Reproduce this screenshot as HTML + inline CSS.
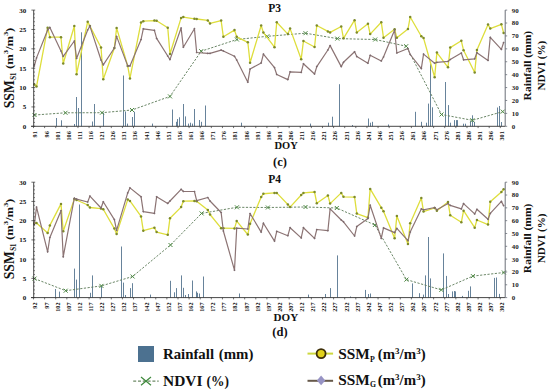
<!DOCTYPE html><html><head><meta charset="utf-8"><style>
html,body{margin:0;padding:0;background:#fff;}
svg{display:block;}
text{font-family:"Liberation Serif",serif;fill:#111;}
.tl{font-size:7px;font-weight:bold;text-anchor:end;}
.tr{font-size:6.9px;font-weight:bold;fill:#222;}
.tx{font-size:6.2px;font-weight:bold;text-anchor:end;}
.pt{font-size:12.6px;font-weight:bold;}
.doy{font-size:10.6px;font-weight:bold;}
.sub{font-size:12.5px;font-weight:bold;text-anchor:middle;}
.ax{font-weight:bold;}
.lg{font-size:14.2px;font-weight:bold;}
</style></head><body>
<svg width="550" height="392" viewBox="0 0 550 392">
<rect width="550" height="392" fill="#fff"/>
<rect x="56" y="118.00" width="1" height="8.30" fill="#67839b"/>
<rect x="61" y="120.30" width="1" height="6.00" fill="#67839b"/>
<rect x="74" y="124.00" width="1" height="2.30" fill="#67839b"/>
<rect x="76" y="97.00" width="1" height="29.30" fill="#67839b"/>
<rect x="78" y="108.00" width="1" height="18.30" fill="#67839b"/>
<rect x="81" y="32.30" width="1" height="94.00" fill="#67839b"/>
<rect x="92" y="121.50" width="1" height="4.80" fill="#67839b"/>
<rect x="94" y="104.00" width="1" height="22.30" fill="#67839b"/>
<rect x="103" y="112.80" width="1" height="13.50" fill="#67839b"/>
<rect x="123" y="75.50" width="1" height="50.80" fill="#67839b"/>
<rect x="125" y="111.50" width="1" height="14.80" fill="#67839b"/>
<rect x="127" y="123.60" width="1" height="2.70" fill="#67839b"/>
<rect x="132" y="117.00" width="1" height="9.30" fill="#67839b"/>
<rect x="134" y="111.80" width="1" height="14.50" fill="#67839b"/>
<rect x="152" y="123.60" width="1" height="2.70" fill="#67839b"/>
<rect x="172" y="109.50" width="1" height="16.80" fill="#67839b"/>
<rect x="176" y="121.80" width="1" height="4.50" fill="#67839b"/>
<rect x="177" y="119.00" width="1" height="7.30" fill="#67839b"/>
<rect x="179" y="117.30" width="1" height="9.00" fill="#67839b"/>
<rect x="183" y="104.00" width="1" height="22.30" fill="#67839b"/>
<rect x="185" y="116.40" width="1" height="9.90" fill="#67839b"/>
<rect x="188" y="123.60" width="1" height="2.70" fill="#67839b"/>
<rect x="190" y="122.70" width="1" height="3.60" fill="#67839b"/>
<rect x="192" y="123.60" width="1" height="2.70" fill="#67839b"/>
<rect x="194" y="109.00" width="1" height="17.30" fill="#67839b"/>
<rect x="199" y="120.00" width="1" height="6.30" fill="#67839b"/>
<rect x="201" y="121.80" width="1" height="4.50" fill="#67839b"/>
<rect x="205" y="105.50" width="1" height="20.80" fill="#67839b"/>
<rect x="241" y="122.70" width="1" height="3.60" fill="#67839b"/>
<rect x="310" y="123.60" width="1" height="2.70" fill="#67839b"/>
<rect x="328" y="122.70" width="1" height="3.60" fill="#67839b"/>
<rect x="332" y="116.70" width="1" height="9.60" fill="#67839b"/>
<rect x="339" y="84.20" width="1" height="42.10" fill="#67839b"/>
<rect x="352" y="125.00" width="1" height="1.30" fill="#67839b"/>
<rect x="368" y="118.50" width="1" height="7.80" fill="#67839b"/>
<rect x="370" y="122.70" width="1" height="3.60" fill="#67839b"/>
<rect x="372" y="121.80" width="1" height="4.50" fill="#67839b"/>
<rect x="388" y="124.50" width="1" height="1.80" fill="#67839b"/>
<rect x="415" y="111.80" width="1" height="14.50" fill="#67839b"/>
<rect x="421" y="121.80" width="1" height="4.50" fill="#67839b"/>
<rect x="426" y="122.70" width="1" height="3.60" fill="#67839b"/>
<rect x="428" y="103.60" width="1" height="22.70" fill="#67839b"/>
<rect x="430" y="63.60" width="1" height="62.70" fill="#67839b"/>
<rect x="432" y="107.30" width="1" height="19.00" fill="#67839b"/>
<rect x="445" y="82.00" width="1" height="44.30" fill="#67839b"/>
<rect x="448" y="105.10" width="1" height="21.20" fill="#67839b"/>
<rect x="450" y="122.70" width="1" height="3.60" fill="#67839b"/>
<rect x="454" y="120.10" width="1" height="6.20" fill="#67839b"/>
<rect x="456" y="120.10" width="1" height="6.20" fill="#67839b"/>
<rect x="457" y="120.10" width="1" height="6.20" fill="#67839b"/>
<rect x="463" y="123.70" width="1" height="2.60" fill="#67839b"/>
<rect x="465" y="123.70" width="1" height="2.60" fill="#67839b"/>
<rect x="470" y="121.10" width="1" height="5.20" fill="#67839b"/>
<rect x="472" y="115.30" width="1" height="11.00" fill="#67839b"/>
<rect x="474" y="121.90" width="1" height="4.40" fill="#67839b"/>
<rect x="497" y="107.50" width="1" height="18.80" fill="#67839b"/>
<rect x="499" y="106.00" width="1" height="20.30" fill="#67839b"/>
<rect x="501" y="122.00" width="1" height="4.30" fill="#67839b"/>
<polyline points="34.50,115.00 65.50,112.80 102.00,112.70 132.00,110.00 170.00,96.40 201.20,51.20 236.90,39.50 267.30,36.30 305.50,33.20 337.30,38.60 375.20,39.50 406.20,46.20 441.50,114.50 472.40,120.30 502.70,111.60" fill="none" stroke="#62805e" stroke-width="0.95" stroke-linejoin="round" stroke-dasharray="2.2,1.5"/>
<path d="M32.50 113.00l4 4m0 -4l-4 4" stroke="#4f8a45" stroke-width="1" fill="none"/>
<path d="M63.50 110.80l4 4m0 -4l-4 4" stroke="#4f8a45" stroke-width="1" fill="none"/>
<path d="M100.00 110.70l4 4m0 -4l-4 4" stroke="#4f8a45" stroke-width="1" fill="none"/>
<path d="M130.00 108.00l4 4m0 -4l-4 4" stroke="#4f8a45" stroke-width="1" fill="none"/>
<path d="M168.00 94.40l4 4m0 -4l-4 4" stroke="#4f8a45" stroke-width="1" fill="none"/>
<path d="M199.20 49.20l4 4m0 -4l-4 4" stroke="#4f8a45" stroke-width="1" fill="none"/>
<path d="M234.90 37.50l4 4m0 -4l-4 4" stroke="#4f8a45" stroke-width="1" fill="none"/>
<path d="M265.30 34.30l4 4m0 -4l-4 4" stroke="#4f8a45" stroke-width="1" fill="none"/>
<path d="M303.50 31.20l4 4m0 -4l-4 4" stroke="#4f8a45" stroke-width="1" fill="none"/>
<path d="M335.30 36.60l4 4m0 -4l-4 4" stroke="#4f8a45" stroke-width="1" fill="none"/>
<path d="M373.20 37.50l4 4m0 -4l-4 4" stroke="#4f8a45" stroke-width="1" fill="none"/>
<path d="M404.20 44.20l4 4m0 -4l-4 4" stroke="#4f8a45" stroke-width="1" fill="none"/>
<path d="M439.50 112.50l4 4m0 -4l-4 4" stroke="#4f8a45" stroke-width="1" fill="none"/>
<path d="M470.40 118.30l4 4m0 -4l-4 4" stroke="#4f8a45" stroke-width="1" fill="none"/>
<path d="M500.70 109.60l4 4m0 -4l-4 4" stroke="#4f8a45" stroke-width="1" fill="none"/>
<polyline points="34.30,84.40 36.53,86.40 47.64,27.70 49.87,37.20 60.99,37.20 63.22,63.50 74.34,26.00 76.57,74.20 87.68,21.70 89.91,26.10 101.03,47.50 103.26,79.20 114.37,48.00 116.60,27.90 127.72,65.90 129.94,78.40 141.06,22.40 143.29,21.20 154.41,20.60 156.63,20.80 167.75,27.80 169.98,54.00 181.10,17.90 183.33,17.10 194.44,18.80 196.67,19.00 207.79,20.40 210.02,23.40 221.13,20.60 223.36,36.80 234.48,30.10 236.71,36.80 247.82,42.30 250.05,62.80 261.17,25.50 263.40,32.60 274.51,47.20 276.74,22.30 287.86,34.10 290.09,28.60 301.20,59.20 303.43,41.00 314.55,47.00 316.78,25.50 327.89,31.40 330.12,32.40 341.24,26.50 343.47,38.30 354.58,20.20 356.81,32.60 367.93,23.80 370.16,34.10 381.27,22.20 383.50,37.70 394.62,29.30 396.85,37.70 407.96,29.10 410.19,17.00 421.31,36.30 423.54,38.10 434.65,77.30 436.88,52.60 448.00,67.30 450.23,47.60 461.34,40.80 463.57,50.30 474.69,72.50 476.92,50.10 488.03,24.40 490.26,28.60 501.38,24.30 503.61,32.90" fill="none" stroke="#dede3c" stroke-width="1.3" stroke-linejoin="round" />
<circle cx="34.30" cy="84.40" r="1.25" fill="#7d8a2c"/>
<circle cx="36.53" cy="86.40" r="1.25" fill="#7d8a2c"/>
<circle cx="47.64" cy="27.70" r="1.25" fill="#7d8a2c"/>
<circle cx="49.87" cy="37.20" r="1.25" fill="#7d8a2c"/>
<circle cx="60.99" cy="37.20" r="1.25" fill="#7d8a2c"/>
<circle cx="63.22" cy="63.50" r="1.25" fill="#7d8a2c"/>
<circle cx="74.34" cy="26.00" r="1.25" fill="#7d8a2c"/>
<circle cx="76.57" cy="74.20" r="1.25" fill="#7d8a2c"/>
<circle cx="87.68" cy="21.70" r="1.25" fill="#7d8a2c"/>
<circle cx="89.91" cy="26.10" r="1.25" fill="#7d8a2c"/>
<circle cx="101.03" cy="47.50" r="1.25" fill="#7d8a2c"/>
<circle cx="103.26" cy="79.20" r="1.25" fill="#7d8a2c"/>
<circle cx="114.37" cy="48.00" r="1.25" fill="#7d8a2c"/>
<circle cx="116.60" cy="27.90" r="1.25" fill="#7d8a2c"/>
<circle cx="127.72" cy="65.90" r="1.25" fill="#7d8a2c"/>
<circle cx="129.94" cy="78.40" r="1.25" fill="#7d8a2c"/>
<circle cx="141.06" cy="22.40" r="1.25" fill="#7d8a2c"/>
<circle cx="143.29" cy="21.20" r="1.25" fill="#7d8a2c"/>
<circle cx="154.41" cy="20.60" r="1.25" fill="#7d8a2c"/>
<circle cx="156.63" cy="20.80" r="1.25" fill="#7d8a2c"/>
<circle cx="167.75" cy="27.80" r="1.25" fill="#7d8a2c"/>
<circle cx="169.98" cy="54.00" r="1.25" fill="#7d8a2c"/>
<circle cx="181.10" cy="17.90" r="1.25" fill="#7d8a2c"/>
<circle cx="183.33" cy="17.10" r="1.25" fill="#7d8a2c"/>
<circle cx="194.44" cy="18.80" r="1.25" fill="#7d8a2c"/>
<circle cx="196.67" cy="19.00" r="1.25" fill="#7d8a2c"/>
<circle cx="207.79" cy="20.40" r="1.25" fill="#7d8a2c"/>
<circle cx="210.02" cy="23.40" r="1.25" fill="#7d8a2c"/>
<circle cx="221.13" cy="20.60" r="1.25" fill="#7d8a2c"/>
<circle cx="223.36" cy="36.80" r="1.25" fill="#7d8a2c"/>
<circle cx="234.48" cy="30.10" r="1.25" fill="#7d8a2c"/>
<circle cx="236.71" cy="36.80" r="1.25" fill="#7d8a2c"/>
<circle cx="247.82" cy="42.30" r="1.25" fill="#7d8a2c"/>
<circle cx="250.05" cy="62.80" r="1.25" fill="#7d8a2c"/>
<circle cx="261.17" cy="25.50" r="1.25" fill="#7d8a2c"/>
<circle cx="263.40" cy="32.60" r="1.25" fill="#7d8a2c"/>
<circle cx="274.51" cy="47.20" r="1.25" fill="#7d8a2c"/>
<circle cx="276.74" cy="22.30" r="1.25" fill="#7d8a2c"/>
<circle cx="287.86" cy="34.10" r="1.25" fill="#7d8a2c"/>
<circle cx="290.09" cy="28.60" r="1.25" fill="#7d8a2c"/>
<circle cx="301.20" cy="59.20" r="1.25" fill="#7d8a2c"/>
<circle cx="303.43" cy="41.00" r="1.25" fill="#7d8a2c"/>
<circle cx="314.55" cy="47.00" r="1.25" fill="#7d8a2c"/>
<circle cx="316.78" cy="25.50" r="1.25" fill="#7d8a2c"/>
<circle cx="327.89" cy="31.40" r="1.25" fill="#7d8a2c"/>
<circle cx="330.12" cy="32.40" r="1.25" fill="#7d8a2c"/>
<circle cx="341.24" cy="26.50" r="1.25" fill="#7d8a2c"/>
<circle cx="343.47" cy="38.30" r="1.25" fill="#7d8a2c"/>
<circle cx="354.58" cy="20.20" r="1.25" fill="#7d8a2c"/>
<circle cx="356.81" cy="32.60" r="1.25" fill="#7d8a2c"/>
<circle cx="367.93" cy="23.80" r="1.25" fill="#7d8a2c"/>
<circle cx="370.16" cy="34.10" r="1.25" fill="#7d8a2c"/>
<circle cx="381.27" cy="22.20" r="1.25" fill="#7d8a2c"/>
<circle cx="383.50" cy="37.70" r="1.25" fill="#7d8a2c"/>
<circle cx="394.62" cy="29.30" r="1.25" fill="#7d8a2c"/>
<circle cx="396.85" cy="37.70" r="1.25" fill="#7d8a2c"/>
<circle cx="407.96" cy="29.10" r="1.25" fill="#7d8a2c"/>
<circle cx="410.19" cy="17.00" r="1.25" fill="#7d8a2c"/>
<circle cx="421.31" cy="36.30" r="1.25" fill="#7d8a2c"/>
<circle cx="423.54" cy="38.10" r="1.25" fill="#7d8a2c"/>
<circle cx="434.65" cy="77.30" r="1.25" fill="#7d8a2c"/>
<circle cx="436.88" cy="52.60" r="1.25" fill="#7d8a2c"/>
<circle cx="448.00" cy="67.30" r="1.25" fill="#7d8a2c"/>
<circle cx="450.23" cy="47.60" r="1.25" fill="#7d8a2c"/>
<circle cx="461.34" cy="40.80" r="1.25" fill="#7d8a2c"/>
<circle cx="463.57" cy="50.30" r="1.25" fill="#7d8a2c"/>
<circle cx="474.69" cy="72.50" r="1.25" fill="#7d8a2c"/>
<circle cx="476.92" cy="50.10" r="1.25" fill="#7d8a2c"/>
<circle cx="488.03" cy="24.40" r="1.25" fill="#7d8a2c"/>
<circle cx="490.26" cy="28.60" r="1.25" fill="#7d8a2c"/>
<circle cx="501.38" cy="24.30" r="1.25" fill="#7d8a2c"/>
<circle cx="503.61" cy="32.90" r="1.25" fill="#7d8a2c"/>
<polyline points="34.30,66.00 36.53,57.90 47.64,30.00 49.87,27.40 60.99,51.00 63.22,56.30 74.34,41.00 76.57,58.50 87.68,30.00 89.91,26.10 101.03,60.00 103.26,64.80 114.37,48.00 116.60,36.40 127.72,65.90 129.94,65.90 141.06,39.50 143.29,28.80 154.41,30.30 156.63,38.40 167.75,56.00 169.98,59.60 181.10,28.00 183.33,47.20 194.44,28.70 196.67,52.50 207.79,53.40 210.02,53.40 221.13,50.10 223.36,51.00 234.48,56.30 236.71,60.00 247.82,82.20 250.05,69.10 261.17,62.90 263.40,54.10 274.51,67.70 276.74,74.50 287.86,79.60 290.09,71.80 301.20,72.40 303.43,63.80 314.55,74.00 316.78,66.60 327.89,50.00 330.12,45.60 341.24,66.60 343.47,62.30 354.58,51.80 356.81,56.60 367.93,63.20 370.16,55.30 381.27,61.00 383.50,57.00 394.62,30.00 396.85,53.00 407.96,48.50 410.19,54.50 421.31,68.60 423.54,54.10 434.65,63.20 436.88,62.30 448.00,61.40 450.23,59.50 461.34,53.10 463.57,59.80 474.69,58.80 476.92,52.70 488.03,60.40 490.26,37.30 501.38,49.40 503.61,42.50" fill="none" stroke="#8c7474" stroke-width="1.2" stroke-linejoin="round" />
<path d="M34.30 64.90l1.1 1.1l-1.1 1.1l-1.1 -1.1z" fill="#7c6a6e"/>
<path d="M36.53 56.80l1.1 1.1l-1.1 1.1l-1.1 -1.1z" fill="#7c6a6e"/>
<path d="M47.64 28.90l1.1 1.1l-1.1 1.1l-1.1 -1.1z" fill="#7c6a6e"/>
<path d="M49.87 26.30l1.1 1.1l-1.1 1.1l-1.1 -1.1z" fill="#7c6a6e"/>
<path d="M60.99 49.90l1.1 1.1l-1.1 1.1l-1.1 -1.1z" fill="#7c6a6e"/>
<path d="M63.22 55.20l1.1 1.1l-1.1 1.1l-1.1 -1.1z" fill="#7c6a6e"/>
<path d="M74.34 39.90l1.1 1.1l-1.1 1.1l-1.1 -1.1z" fill="#7c6a6e"/>
<path d="M76.57 57.40l1.1 1.1l-1.1 1.1l-1.1 -1.1z" fill="#7c6a6e"/>
<path d="M87.68 28.90l1.1 1.1l-1.1 1.1l-1.1 -1.1z" fill="#7c6a6e"/>
<path d="M89.91 25.00l1.1 1.1l-1.1 1.1l-1.1 -1.1z" fill="#7c6a6e"/>
<path d="M101.03 58.90l1.1 1.1l-1.1 1.1l-1.1 -1.1z" fill="#7c6a6e"/>
<path d="M103.26 63.70l1.1 1.1l-1.1 1.1l-1.1 -1.1z" fill="#7c6a6e"/>
<path d="M114.37 46.90l1.1 1.1l-1.1 1.1l-1.1 -1.1z" fill="#7c6a6e"/>
<path d="M116.60 35.30l1.1 1.1l-1.1 1.1l-1.1 -1.1z" fill="#7c6a6e"/>
<path d="M127.72 64.80l1.1 1.1l-1.1 1.1l-1.1 -1.1z" fill="#7c6a6e"/>
<path d="M129.94 64.80l1.1 1.1l-1.1 1.1l-1.1 -1.1z" fill="#7c6a6e"/>
<path d="M141.06 38.40l1.1 1.1l-1.1 1.1l-1.1 -1.1z" fill="#7c6a6e"/>
<path d="M143.29 27.70l1.1 1.1l-1.1 1.1l-1.1 -1.1z" fill="#7c6a6e"/>
<path d="M154.41 29.20l1.1 1.1l-1.1 1.1l-1.1 -1.1z" fill="#7c6a6e"/>
<path d="M156.63 37.30l1.1 1.1l-1.1 1.1l-1.1 -1.1z" fill="#7c6a6e"/>
<path d="M167.75 54.90l1.1 1.1l-1.1 1.1l-1.1 -1.1z" fill="#7c6a6e"/>
<path d="M169.98 58.50l1.1 1.1l-1.1 1.1l-1.1 -1.1z" fill="#7c6a6e"/>
<path d="M181.10 26.90l1.1 1.1l-1.1 1.1l-1.1 -1.1z" fill="#7c6a6e"/>
<path d="M183.33 46.10l1.1 1.1l-1.1 1.1l-1.1 -1.1z" fill="#7c6a6e"/>
<path d="M194.44 27.60l1.1 1.1l-1.1 1.1l-1.1 -1.1z" fill="#7c6a6e"/>
<path d="M196.67 51.40l1.1 1.1l-1.1 1.1l-1.1 -1.1z" fill="#7c6a6e"/>
<path d="M207.79 52.30l1.1 1.1l-1.1 1.1l-1.1 -1.1z" fill="#7c6a6e"/>
<path d="M210.02 52.30l1.1 1.1l-1.1 1.1l-1.1 -1.1z" fill="#7c6a6e"/>
<path d="M221.13 49.00l1.1 1.1l-1.1 1.1l-1.1 -1.1z" fill="#7c6a6e"/>
<path d="M223.36 49.90l1.1 1.1l-1.1 1.1l-1.1 -1.1z" fill="#7c6a6e"/>
<path d="M234.48 55.20l1.1 1.1l-1.1 1.1l-1.1 -1.1z" fill="#7c6a6e"/>
<path d="M236.71 58.90l1.1 1.1l-1.1 1.1l-1.1 -1.1z" fill="#7c6a6e"/>
<path d="M247.82 81.10l1.1 1.1l-1.1 1.1l-1.1 -1.1z" fill="#7c6a6e"/>
<path d="M250.05 68.00l1.1 1.1l-1.1 1.1l-1.1 -1.1z" fill="#7c6a6e"/>
<path d="M261.17 61.80l1.1 1.1l-1.1 1.1l-1.1 -1.1z" fill="#7c6a6e"/>
<path d="M263.40 53.00l1.1 1.1l-1.1 1.1l-1.1 -1.1z" fill="#7c6a6e"/>
<path d="M274.51 66.60l1.1 1.1l-1.1 1.1l-1.1 -1.1z" fill="#7c6a6e"/>
<path d="M276.74 73.40l1.1 1.1l-1.1 1.1l-1.1 -1.1z" fill="#7c6a6e"/>
<path d="M287.86 78.50l1.1 1.1l-1.1 1.1l-1.1 -1.1z" fill="#7c6a6e"/>
<path d="M290.09 70.70l1.1 1.1l-1.1 1.1l-1.1 -1.1z" fill="#7c6a6e"/>
<path d="M301.20 71.30l1.1 1.1l-1.1 1.1l-1.1 -1.1z" fill="#7c6a6e"/>
<path d="M303.43 62.70l1.1 1.1l-1.1 1.1l-1.1 -1.1z" fill="#7c6a6e"/>
<path d="M314.55 72.90l1.1 1.1l-1.1 1.1l-1.1 -1.1z" fill="#7c6a6e"/>
<path d="M316.78 65.50l1.1 1.1l-1.1 1.1l-1.1 -1.1z" fill="#7c6a6e"/>
<path d="M327.89 48.90l1.1 1.1l-1.1 1.1l-1.1 -1.1z" fill="#7c6a6e"/>
<path d="M330.12 44.50l1.1 1.1l-1.1 1.1l-1.1 -1.1z" fill="#7c6a6e"/>
<path d="M341.24 65.50l1.1 1.1l-1.1 1.1l-1.1 -1.1z" fill="#7c6a6e"/>
<path d="M343.47 61.20l1.1 1.1l-1.1 1.1l-1.1 -1.1z" fill="#7c6a6e"/>
<path d="M354.58 50.70l1.1 1.1l-1.1 1.1l-1.1 -1.1z" fill="#7c6a6e"/>
<path d="M356.81 55.50l1.1 1.1l-1.1 1.1l-1.1 -1.1z" fill="#7c6a6e"/>
<path d="M367.93 62.10l1.1 1.1l-1.1 1.1l-1.1 -1.1z" fill="#7c6a6e"/>
<path d="M370.16 54.20l1.1 1.1l-1.1 1.1l-1.1 -1.1z" fill="#7c6a6e"/>
<path d="M381.27 59.90l1.1 1.1l-1.1 1.1l-1.1 -1.1z" fill="#7c6a6e"/>
<path d="M383.50 55.90l1.1 1.1l-1.1 1.1l-1.1 -1.1z" fill="#7c6a6e"/>
<path d="M394.62 28.90l1.1 1.1l-1.1 1.1l-1.1 -1.1z" fill="#7c6a6e"/>
<path d="M396.85 51.90l1.1 1.1l-1.1 1.1l-1.1 -1.1z" fill="#7c6a6e"/>
<path d="M407.96 47.40l1.1 1.1l-1.1 1.1l-1.1 -1.1z" fill="#7c6a6e"/>
<path d="M410.19 53.40l1.1 1.1l-1.1 1.1l-1.1 -1.1z" fill="#7c6a6e"/>
<path d="M421.31 67.50l1.1 1.1l-1.1 1.1l-1.1 -1.1z" fill="#7c6a6e"/>
<path d="M423.54 53.00l1.1 1.1l-1.1 1.1l-1.1 -1.1z" fill="#7c6a6e"/>
<path d="M434.65 62.10l1.1 1.1l-1.1 1.1l-1.1 -1.1z" fill="#7c6a6e"/>
<path d="M436.88 61.20l1.1 1.1l-1.1 1.1l-1.1 -1.1z" fill="#7c6a6e"/>
<path d="M448.00 60.30l1.1 1.1l-1.1 1.1l-1.1 -1.1z" fill="#7c6a6e"/>
<path d="M450.23 58.40l1.1 1.1l-1.1 1.1l-1.1 -1.1z" fill="#7c6a6e"/>
<path d="M461.34 52.00l1.1 1.1l-1.1 1.1l-1.1 -1.1z" fill="#7c6a6e"/>
<path d="M463.57 58.70l1.1 1.1l-1.1 1.1l-1.1 -1.1z" fill="#7c6a6e"/>
<path d="M474.69 57.70l1.1 1.1l-1.1 1.1l-1.1 -1.1z" fill="#7c6a6e"/>
<path d="M476.92 51.60l1.1 1.1l-1.1 1.1l-1.1 -1.1z" fill="#7c6a6e"/>
<path d="M488.03 59.30l1.1 1.1l-1.1 1.1l-1.1 -1.1z" fill="#7c6a6e"/>
<path d="M490.26 36.20l1.1 1.1l-1.1 1.1l-1.1 -1.1z" fill="#7c6a6e"/>
<path d="M501.38 48.30l1.1 1.1l-1.1 1.1l-1.1 -1.1z" fill="#7c6a6e"/>
<path d="M503.61 41.40l1.1 1.1l-1.1 1.1l-1.1 -1.1z" fill="#7c6a6e"/>
<line x1="33.7" y1="10.10" x2="33.7" y2="126.30" stroke="#333" stroke-width="0.9"/>
<line x1="31" y1="126.30" x2="505.2" y2="126.30" stroke="#333" stroke-width="0.9"/>
<line x1="505.2" y1="10.10" x2="505.2" y2="126.30" stroke="#6a6f78" stroke-width="1"/>
<line x1="31.4" y1="126.30" x2="35.2" y2="126.30" stroke="#333" stroke-width="0.7"/>
<text x="26.3" y="128.70" class="tl">0</text>
<line x1="33.7" y1="122.43" x2="35.0" y2="122.43" stroke="#333" stroke-width="0.6"/>
<line x1="33.7" y1="118.55" x2="35.0" y2="118.55" stroke="#333" stroke-width="0.6"/>
<line x1="33.7" y1="114.68" x2="35.0" y2="114.68" stroke="#333" stroke-width="0.6"/>
<line x1="33.7" y1="110.81" x2="35.0" y2="110.81" stroke="#333" stroke-width="0.6"/>
<line x1="31.4" y1="106.93" x2="35.2" y2="106.93" stroke="#333" stroke-width="0.7"/>
<text x="26.3" y="109.33" class="tl">5</text>
<line x1="33.7" y1="103.06" x2="35.0" y2="103.06" stroke="#333" stroke-width="0.6"/>
<line x1="33.7" y1="99.19" x2="35.0" y2="99.19" stroke="#333" stroke-width="0.6"/>
<line x1="33.7" y1="95.31" x2="35.0" y2="95.31" stroke="#333" stroke-width="0.6"/>
<line x1="33.7" y1="91.44" x2="35.0" y2="91.44" stroke="#333" stroke-width="0.6"/>
<line x1="31.4" y1="87.57" x2="35.2" y2="87.57" stroke="#333" stroke-width="0.7"/>
<text x="26.3" y="89.97" class="tl">10</text>
<line x1="33.7" y1="83.69" x2="35.0" y2="83.69" stroke="#333" stroke-width="0.6"/>
<line x1="33.7" y1="79.82" x2="35.0" y2="79.82" stroke="#333" stroke-width="0.6"/>
<line x1="33.7" y1="75.95" x2="35.0" y2="75.95" stroke="#333" stroke-width="0.6"/>
<line x1="33.7" y1="72.07" x2="35.0" y2="72.07" stroke="#333" stroke-width="0.6"/>
<line x1="31.4" y1="68.20" x2="35.2" y2="68.20" stroke="#333" stroke-width="0.7"/>
<text x="26.3" y="70.60" class="tl">15</text>
<line x1="33.7" y1="64.33" x2="35.0" y2="64.33" stroke="#333" stroke-width="0.6"/>
<line x1="33.7" y1="60.45" x2="35.0" y2="60.45" stroke="#333" stroke-width="0.6"/>
<line x1="33.7" y1="56.58" x2="35.0" y2="56.58" stroke="#333" stroke-width="0.6"/>
<line x1="33.7" y1="52.71" x2="35.0" y2="52.71" stroke="#333" stroke-width="0.6"/>
<line x1="31.4" y1="48.83" x2="35.2" y2="48.83" stroke="#333" stroke-width="0.7"/>
<text x="26.3" y="51.23" class="tl">20</text>
<line x1="33.7" y1="44.96" x2="35.0" y2="44.96" stroke="#333" stroke-width="0.6"/>
<line x1="33.7" y1="41.09" x2="35.0" y2="41.09" stroke="#333" stroke-width="0.6"/>
<line x1="33.7" y1="37.21" x2="35.0" y2="37.21" stroke="#333" stroke-width="0.6"/>
<line x1="33.7" y1="33.34" x2="35.0" y2="33.34" stroke="#333" stroke-width="0.6"/>
<line x1="31.4" y1="29.47" x2="35.2" y2="29.47" stroke="#333" stroke-width="0.7"/>
<text x="26.3" y="31.87" class="tl">25</text>
<line x1="33.7" y1="25.59" x2="35.0" y2="25.59" stroke="#333" stroke-width="0.6"/>
<line x1="33.7" y1="21.72" x2="35.0" y2="21.72" stroke="#333" stroke-width="0.6"/>
<line x1="33.7" y1="17.85" x2="35.0" y2="17.85" stroke="#333" stroke-width="0.6"/>
<line x1="33.7" y1="13.97" x2="35.0" y2="13.97" stroke="#333" stroke-width="0.6"/>
<line x1="31.4" y1="10.10" x2="35.2" y2="10.10" stroke="#333" stroke-width="0.7"/>
<text x="26.3" y="12.50" class="tl">30</text>
<line x1="505.2" y1="126.30" x2="507.2" y2="126.30" stroke="#6a6f78" stroke-width="0.8"/>
<text x="511.8" y="128.70" class="tr">0</text>
<line x1="505.2" y1="113.39" x2="507.2" y2="113.39" stroke="#6a6f78" stroke-width="0.8"/>
<text x="511.8" y="115.79" class="tr">10</text>
<line x1="505.2" y1="100.48" x2="507.2" y2="100.48" stroke="#6a6f78" stroke-width="0.8"/>
<text x="511.8" y="102.88" class="tr">20</text>
<line x1="505.2" y1="87.57" x2="507.2" y2="87.57" stroke="#6a6f78" stroke-width="0.8"/>
<text x="511.8" y="89.97" class="tr">30</text>
<line x1="505.2" y1="74.66" x2="507.2" y2="74.66" stroke="#6a6f78" stroke-width="0.8"/>
<text x="511.8" y="77.06" class="tr">40</text>
<line x1="505.2" y1="61.74" x2="507.2" y2="61.74" stroke="#6a6f78" stroke-width="0.8"/>
<text x="511.8" y="64.14" class="tr">50</text>
<line x1="505.2" y1="48.83" x2="507.2" y2="48.83" stroke="#6a6f78" stroke-width="0.8"/>
<text x="511.8" y="51.23" class="tr">60</text>
<line x1="505.2" y1="35.92" x2="507.2" y2="35.92" stroke="#6a6f78" stroke-width="0.8"/>
<text x="511.8" y="38.32" class="tr">70</text>
<line x1="505.2" y1="23.01" x2="507.2" y2="23.01" stroke="#6a6f78" stroke-width="0.8"/>
<text x="511.8" y="25.41" class="tr">80</text>
<line x1="505.2" y1="10.10" x2="507.2" y2="10.10" stroke="#6a6f78" stroke-width="0.8"/>
<text x="511.8" y="12.50" class="tr">90</text>
<line x1="33.50" y1="126.30" x2="33.50" y2="128.10" stroke="#333" stroke-width="0.7"/>
<text transform="translate(37.40 131.20) rotate(-90)" class="tx">91</text>
<line x1="44.61" y1="126.30" x2="44.61" y2="128.10" stroke="#333" stroke-width="0.7"/>
<text transform="translate(48.51 131.20) rotate(-90)" class="tx">96</text>
<line x1="55.73" y1="126.30" x2="55.73" y2="128.10" stroke="#333" stroke-width="0.7"/>
<text transform="translate(59.63 131.20) rotate(-90)" class="tx">101</text>
<line x1="66.84" y1="126.30" x2="66.84" y2="128.10" stroke="#333" stroke-width="0.7"/>
<text transform="translate(70.74 131.20) rotate(-90)" class="tx">106</text>
<line x1="77.96" y1="126.30" x2="77.96" y2="128.10" stroke="#333" stroke-width="0.7"/>
<text transform="translate(81.86 131.20) rotate(-90)" class="tx">111</text>
<line x1="89.07" y1="126.30" x2="89.07" y2="128.10" stroke="#333" stroke-width="0.7"/>
<text transform="translate(92.97 131.20) rotate(-90)" class="tx">116</text>
<line x1="100.19" y1="126.30" x2="100.19" y2="128.10" stroke="#333" stroke-width="0.7"/>
<text transform="translate(104.09 131.20) rotate(-90)" class="tx">121</text>
<line x1="111.30" y1="126.30" x2="111.30" y2="128.10" stroke="#333" stroke-width="0.7"/>
<text transform="translate(115.20 131.20) rotate(-90)" class="tx">126</text>
<line x1="122.42" y1="126.30" x2="122.42" y2="128.10" stroke="#333" stroke-width="0.7"/>
<text transform="translate(126.32 131.20) rotate(-90)" class="tx">131</text>
<line x1="133.53" y1="126.30" x2="133.53" y2="128.10" stroke="#333" stroke-width="0.7"/>
<text transform="translate(137.43 131.20) rotate(-90)" class="tx">136</text>
<line x1="144.65" y1="126.30" x2="144.65" y2="128.10" stroke="#333" stroke-width="0.7"/>
<text transform="translate(148.55 131.20) rotate(-90)" class="tx">141</text>
<line x1="155.76" y1="126.30" x2="155.76" y2="128.10" stroke="#333" stroke-width="0.7"/>
<text transform="translate(159.66 131.20) rotate(-90)" class="tx">146</text>
<line x1="166.87" y1="126.30" x2="166.87" y2="128.10" stroke="#333" stroke-width="0.7"/>
<text transform="translate(170.77 131.20) rotate(-90)" class="tx">151</text>
<line x1="177.99" y1="126.30" x2="177.99" y2="128.10" stroke="#333" stroke-width="0.7"/>
<text transform="translate(181.89 131.20) rotate(-90)" class="tx">156</text>
<line x1="189.10" y1="126.30" x2="189.10" y2="128.10" stroke="#333" stroke-width="0.7"/>
<text transform="translate(193.00 131.20) rotate(-90)" class="tx">161</text>
<line x1="200.22" y1="126.30" x2="200.22" y2="128.10" stroke="#333" stroke-width="0.7"/>
<text transform="translate(204.12 131.20) rotate(-90)" class="tx">166</text>
<line x1="211.33" y1="126.30" x2="211.33" y2="128.10" stroke="#333" stroke-width="0.7"/>
<text transform="translate(215.23 131.20) rotate(-90)" class="tx">171</text>
<line x1="222.45" y1="126.30" x2="222.45" y2="128.10" stroke="#333" stroke-width="0.7"/>
<text transform="translate(226.35 131.20) rotate(-90)" class="tx">176</text>
<line x1="233.56" y1="126.30" x2="233.56" y2="128.10" stroke="#333" stroke-width="0.7"/>
<text transform="translate(237.46 131.20) rotate(-90)" class="tx">181</text>
<line x1="244.68" y1="126.30" x2="244.68" y2="128.10" stroke="#333" stroke-width="0.7"/>
<text transform="translate(248.58 131.20) rotate(-90)" class="tx">186</text>
<line x1="255.79" y1="126.30" x2="255.79" y2="128.10" stroke="#333" stroke-width="0.7"/>
<text transform="translate(259.69 131.20) rotate(-90)" class="tx">191</text>
<line x1="266.90" y1="126.30" x2="266.90" y2="128.10" stroke="#333" stroke-width="0.7"/>
<text transform="translate(270.80 131.20) rotate(-90)" class="tx">196</text>
<line x1="278.02" y1="126.30" x2="278.02" y2="128.10" stroke="#333" stroke-width="0.7"/>
<text transform="translate(281.92 131.20) rotate(-90)" class="tx">201</text>
<line x1="289.13" y1="126.30" x2="289.13" y2="128.10" stroke="#333" stroke-width="0.7"/>
<text transform="translate(293.03 131.20) rotate(-90)" class="tx">206</text>
<line x1="300.25" y1="126.30" x2="300.25" y2="128.10" stroke="#333" stroke-width="0.7"/>
<text transform="translate(304.15 131.20) rotate(-90)" class="tx">211</text>
<line x1="311.36" y1="126.30" x2="311.36" y2="128.10" stroke="#333" stroke-width="0.7"/>
<text transform="translate(315.26 131.20) rotate(-90)" class="tx">216</text>
<line x1="322.48" y1="126.30" x2="322.48" y2="128.10" stroke="#333" stroke-width="0.7"/>
<text transform="translate(326.38 131.20) rotate(-90)" class="tx">221</text>
<line x1="333.59" y1="126.30" x2="333.59" y2="128.10" stroke="#333" stroke-width="0.7"/>
<text transform="translate(337.49 131.20) rotate(-90)" class="tx">226</text>
<line x1="344.71" y1="126.30" x2="344.71" y2="128.10" stroke="#333" stroke-width="0.7"/>
<text transform="translate(348.61 131.20) rotate(-90)" class="tx">231</text>
<line x1="355.82" y1="126.30" x2="355.82" y2="128.10" stroke="#333" stroke-width="0.7"/>
<text transform="translate(359.72 131.20) rotate(-90)" class="tx">236</text>
<line x1="366.94" y1="126.30" x2="366.94" y2="128.10" stroke="#333" stroke-width="0.7"/>
<text transform="translate(370.83 131.20) rotate(-90)" class="tx">241</text>
<line x1="378.05" y1="126.30" x2="378.05" y2="128.10" stroke="#333" stroke-width="0.7"/>
<text transform="translate(381.95 131.20) rotate(-90)" class="tx">246</text>
<line x1="389.16" y1="126.30" x2="389.16" y2="128.10" stroke="#333" stroke-width="0.7"/>
<text transform="translate(393.06 131.20) rotate(-90)" class="tx">251</text>
<line x1="400.28" y1="126.30" x2="400.28" y2="128.10" stroke="#333" stroke-width="0.7"/>
<text transform="translate(404.18 131.20) rotate(-90)" class="tx">256</text>
<line x1="411.39" y1="126.30" x2="411.39" y2="128.10" stroke="#333" stroke-width="0.7"/>
<text transform="translate(415.29 131.20) rotate(-90)" class="tx">261</text>
<line x1="422.51" y1="126.30" x2="422.51" y2="128.10" stroke="#333" stroke-width="0.7"/>
<text transform="translate(426.41 131.20) rotate(-90)" class="tx">266</text>
<line x1="433.62" y1="126.30" x2="433.62" y2="128.10" stroke="#333" stroke-width="0.7"/>
<text transform="translate(437.52 131.20) rotate(-90)" class="tx">271</text>
<line x1="444.74" y1="126.30" x2="444.74" y2="128.10" stroke="#333" stroke-width="0.7"/>
<text transform="translate(448.64 131.20) rotate(-90)" class="tx">276</text>
<line x1="455.85" y1="126.30" x2="455.85" y2="128.10" stroke="#333" stroke-width="0.7"/>
<text transform="translate(459.75 131.20) rotate(-90)" class="tx">281</text>
<line x1="466.97" y1="126.30" x2="466.97" y2="128.10" stroke="#333" stroke-width="0.7"/>
<text transform="translate(470.87 131.20) rotate(-90)" class="tx">286</text>
<line x1="478.08" y1="126.30" x2="478.08" y2="128.10" stroke="#333" stroke-width="0.7"/>
<text transform="translate(481.98 131.20) rotate(-90)" class="tx">291</text>
<line x1="489.19" y1="126.30" x2="489.19" y2="128.10" stroke="#333" stroke-width="0.7"/>
<text transform="translate(493.09 131.20) rotate(-90)" class="tx">296</text>
<line x1="500.31" y1="126.30" x2="500.31" y2="128.10" stroke="#333" stroke-width="0.7"/>
<text transform="translate(504.21 131.20) rotate(-90)" class="tx">301</text>
<text x="268.2" y="11.50" class="pt" textLength="12.8" lengthAdjust="spacingAndGlyphs">P3</text>
<text x="274.50" y="149.40" class="doy" textLength="23.20" lengthAdjust="spacingAndGlyphs">DOY</text>
<text x="280" y="165.80" class="sub">(c)</text>
<rect x="55" y="289.00" width="1" height="8.60" fill="#67839b"/>
<rect x="59" y="291.60" width="1" height="6.00" fill="#67839b"/>
<rect x="74" y="268.60" width="1" height="29.00" fill="#67839b"/>
<rect x="76" y="279.60" width="1" height="18.00" fill="#67839b"/>
<rect x="79" y="204.50" width="1" height="93.10" fill="#67839b"/>
<rect x="90" y="292.80" width="1" height="4.80" fill="#67839b"/>
<rect x="92" y="275.40" width="1" height="22.20" fill="#67839b"/>
<rect x="101" y="285.90" width="1" height="11.70" fill="#67839b"/>
<rect x="121" y="246.50" width="1" height="51.10" fill="#67839b"/>
<rect x="123" y="282.60" width="1" height="15.00" fill="#67839b"/>
<rect x="125" y="295.00" width="1" height="2.60" fill="#67839b"/>
<rect x="130" y="288.10" width="1" height="9.50" fill="#67839b"/>
<rect x="132" y="283.20" width="1" height="14.40" fill="#67839b"/>
<rect x="150" y="294.60" width="1" height="3.00" fill="#67839b"/>
<rect x="170" y="280.80" width="1" height="16.80" fill="#67839b"/>
<rect x="174" y="292.30" width="1" height="5.30" fill="#67839b"/>
<rect x="176" y="288.10" width="1" height="9.50" fill="#67839b"/>
<rect x="181" y="275.40" width="1" height="22.20" fill="#67839b"/>
<rect x="183" y="287.80" width="1" height="9.80" fill="#67839b"/>
<rect x="185" y="295.00" width="1" height="2.60" fill="#67839b"/>
<rect x="188" y="294.00" width="1" height="3.60" fill="#67839b"/>
<rect x="192" y="280.50" width="1" height="17.10" fill="#67839b"/>
<rect x="196" y="291.40" width="1" height="6.20" fill="#67839b"/>
<rect x="197" y="292.80" width="1" height="4.80" fill="#67839b"/>
<rect x="199" y="293.50" width="1" height="4.10" fill="#67839b"/>
<rect x="203" y="276.50" width="1" height="21.10" fill="#67839b"/>
<rect x="239" y="293.50" width="1" height="4.10" fill="#67839b"/>
<rect x="308" y="294.60" width="1" height="3.00" fill="#67839b"/>
<rect x="325" y="294.00" width="1" height="3.60" fill="#67839b"/>
<rect x="330" y="288.10" width="1" height="9.50" fill="#67839b"/>
<rect x="337" y="255.40" width="1" height="42.20" fill="#67839b"/>
<rect x="350" y="296.50" width="1" height="1.10" fill="#67839b"/>
<rect x="365" y="289.90" width="1" height="7.70" fill="#67839b"/>
<rect x="368" y="294.00" width="1" height="3.60" fill="#67839b"/>
<rect x="370" y="293.50" width="1" height="4.10" fill="#67839b"/>
<rect x="412" y="283.40" width="1" height="14.20" fill="#67839b"/>
<rect x="419" y="293.20" width="1" height="4.40" fill="#67839b"/>
<rect x="423" y="294.60" width="1" height="3.00" fill="#67839b"/>
<rect x="425" y="275.40" width="1" height="22.20" fill="#67839b"/>
<rect x="428" y="237.00" width="1" height="60.60" fill="#67839b"/>
<rect x="430" y="278.40" width="1" height="19.20" fill="#67839b"/>
<rect x="443" y="253.40" width="1" height="44.20" fill="#67839b"/>
<rect x="446" y="275.90" width="1" height="21.70" fill="#67839b"/>
<rect x="448" y="294.00" width="1" height="3.60" fill="#67839b"/>
<rect x="452" y="291.40" width="1" height="6.20" fill="#67839b"/>
<rect x="454" y="291.00" width="1" height="6.60" fill="#67839b"/>
<rect x="455" y="291.40" width="1" height="6.20" fill="#67839b"/>
<rect x="462" y="295.90" width="1" height="1.70" fill="#67839b"/>
<rect x="468" y="290.80" width="1" height="6.80" fill="#67839b"/>
<rect x="470" y="286.40" width="1" height="11.20" fill="#67839b"/>
<rect x="494" y="277.90" width="1" height="19.70" fill="#67839b"/>
<rect x="496" y="277.50" width="1" height="20.10" fill="#67839b"/>
<rect x="499" y="293.90" width="1" height="3.70" fill="#67839b"/>
<polyline points="34.50,278.60 65.70,290.70 101.40,285.90 132.60,276.50 170.50,245.00 201.60,213.40 236.90,207.30 267.90,207.50 305.50,207.00 336.80,208.00 374.90,225.00 406.40,279.60 441.30,289.90 472.90,276.10 503.90,272.50" fill="none" stroke="#62805e" stroke-width="0.95" stroke-linejoin="round" stroke-dasharray="2.2,1.5"/>
<path d="M32.50 276.60l4 4m0 -4l-4 4" stroke="#4f8a45" stroke-width="1" fill="none"/>
<path d="M63.70 288.70l4 4m0 -4l-4 4" stroke="#4f8a45" stroke-width="1" fill="none"/>
<path d="M99.40 283.90l4 4m0 -4l-4 4" stroke="#4f8a45" stroke-width="1" fill="none"/>
<path d="M130.60 274.50l4 4m0 -4l-4 4" stroke="#4f8a45" stroke-width="1" fill="none"/>
<path d="M168.50 243.00l4 4m0 -4l-4 4" stroke="#4f8a45" stroke-width="1" fill="none"/>
<path d="M199.60 211.40l4 4m0 -4l-4 4" stroke="#4f8a45" stroke-width="1" fill="none"/>
<path d="M234.90 205.30l4 4m0 -4l-4 4" stroke="#4f8a45" stroke-width="1" fill="none"/>
<path d="M265.90 205.50l4 4m0 -4l-4 4" stroke="#4f8a45" stroke-width="1" fill="none"/>
<path d="M303.50 205.00l4 4m0 -4l-4 4" stroke="#4f8a45" stroke-width="1" fill="none"/>
<path d="M334.80 206.00l4 4m0 -4l-4 4" stroke="#4f8a45" stroke-width="1" fill="none"/>
<path d="M372.90 223.00l4 4m0 -4l-4 4" stroke="#4f8a45" stroke-width="1" fill="none"/>
<path d="M404.40 277.60l4 4m0 -4l-4 4" stroke="#4f8a45" stroke-width="1" fill="none"/>
<path d="M439.30 287.90l4 4m0 -4l-4 4" stroke="#4f8a45" stroke-width="1" fill="none"/>
<path d="M470.90 274.10l4 4m0 -4l-4 4" stroke="#4f8a45" stroke-width="1" fill="none"/>
<path d="M501.90 270.50l4 4m0 -4l-4 4" stroke="#4f8a45" stroke-width="1" fill="none"/>
<polyline points="34.30,223.20 36.53,222.90 47.64,233.00 49.87,225.40 60.99,203.90 63.22,231.30 74.34,199.10 76.57,200.00 87.68,205.00 89.91,207.50 101.03,208.60 103.26,209.30 114.37,228.60 116.60,233.90 127.72,199.60 129.94,200.90 141.06,216.40 143.29,230.70 154.41,227.70 156.63,232.10 167.75,234.80 169.98,218.20 181.10,207.10 183.33,201.20 194.44,201.00 196.67,201.20 207.79,210.00 210.02,214.50 221.13,228.20 223.36,228.20 234.48,228.40 236.71,221.10 247.82,234.50 250.05,223.70 261.17,197.10 263.40,193.75 274.51,192.90 276.74,192.90 287.86,204.50 290.09,207.10 301.20,195.00 303.43,192.90 314.55,192.00 316.78,203.20 327.89,195.50 330.12,203.60 341.24,192.90 343.47,196.80 354.58,197.10 356.81,213.60 367.93,217.70 370.16,188.90 381.27,207.70 383.50,211.20 394.62,238.20 396.85,216.10 407.96,244.00 410.19,223.20 421.31,197.90 423.54,211.60 434.65,208.00 436.88,210.70 448.00,202.10 450.23,215.20 461.34,222.30 463.57,210.70 474.69,227.70 476.92,220.00 488.03,224.60 490.26,201.80 501.38,192.00 503.61,189.30" fill="none" stroke="#dede3c" stroke-width="1.3" stroke-linejoin="round" />
<circle cx="34.30" cy="223.20" r="1.25" fill="#7d8a2c"/>
<circle cx="36.53" cy="222.90" r="1.25" fill="#7d8a2c"/>
<circle cx="47.64" cy="233.00" r="1.25" fill="#7d8a2c"/>
<circle cx="49.87" cy="225.40" r="1.25" fill="#7d8a2c"/>
<circle cx="60.99" cy="203.90" r="1.25" fill="#7d8a2c"/>
<circle cx="63.22" cy="231.30" r="1.25" fill="#7d8a2c"/>
<circle cx="74.34" cy="199.10" r="1.25" fill="#7d8a2c"/>
<circle cx="76.57" cy="200.00" r="1.25" fill="#7d8a2c"/>
<circle cx="87.68" cy="205.00" r="1.25" fill="#7d8a2c"/>
<circle cx="89.91" cy="207.50" r="1.25" fill="#7d8a2c"/>
<circle cx="101.03" cy="208.60" r="1.25" fill="#7d8a2c"/>
<circle cx="103.26" cy="209.30" r="1.25" fill="#7d8a2c"/>
<circle cx="114.37" cy="228.60" r="1.25" fill="#7d8a2c"/>
<circle cx="116.60" cy="233.90" r="1.25" fill="#7d8a2c"/>
<circle cx="127.72" cy="199.60" r="1.25" fill="#7d8a2c"/>
<circle cx="129.94" cy="200.90" r="1.25" fill="#7d8a2c"/>
<circle cx="141.06" cy="216.40" r="1.25" fill="#7d8a2c"/>
<circle cx="143.29" cy="230.70" r="1.25" fill="#7d8a2c"/>
<circle cx="154.41" cy="227.70" r="1.25" fill="#7d8a2c"/>
<circle cx="156.63" cy="232.10" r="1.25" fill="#7d8a2c"/>
<circle cx="167.75" cy="234.80" r="1.25" fill="#7d8a2c"/>
<circle cx="169.98" cy="218.20" r="1.25" fill="#7d8a2c"/>
<circle cx="181.10" cy="207.10" r="1.25" fill="#7d8a2c"/>
<circle cx="183.33" cy="201.20" r="1.25" fill="#7d8a2c"/>
<circle cx="194.44" cy="201.00" r="1.25" fill="#7d8a2c"/>
<circle cx="196.67" cy="201.20" r="1.25" fill="#7d8a2c"/>
<circle cx="207.79" cy="210.00" r="1.25" fill="#7d8a2c"/>
<circle cx="210.02" cy="214.50" r="1.25" fill="#7d8a2c"/>
<circle cx="221.13" cy="228.20" r="1.25" fill="#7d8a2c"/>
<circle cx="223.36" cy="228.20" r="1.25" fill="#7d8a2c"/>
<circle cx="234.48" cy="228.40" r="1.25" fill="#7d8a2c"/>
<circle cx="236.71" cy="221.10" r="1.25" fill="#7d8a2c"/>
<circle cx="247.82" cy="234.50" r="1.25" fill="#7d8a2c"/>
<circle cx="250.05" cy="223.70" r="1.25" fill="#7d8a2c"/>
<circle cx="261.17" cy="197.10" r="1.25" fill="#7d8a2c"/>
<circle cx="263.40" cy="193.75" r="1.25" fill="#7d8a2c"/>
<circle cx="274.51" cy="192.90" r="1.25" fill="#7d8a2c"/>
<circle cx="276.74" cy="192.90" r="1.25" fill="#7d8a2c"/>
<circle cx="287.86" cy="204.50" r="1.25" fill="#7d8a2c"/>
<circle cx="290.09" cy="207.10" r="1.25" fill="#7d8a2c"/>
<circle cx="301.20" cy="195.00" r="1.25" fill="#7d8a2c"/>
<circle cx="303.43" cy="192.90" r="1.25" fill="#7d8a2c"/>
<circle cx="314.55" cy="192.00" r="1.25" fill="#7d8a2c"/>
<circle cx="316.78" cy="203.20" r="1.25" fill="#7d8a2c"/>
<circle cx="327.89" cy="195.50" r="1.25" fill="#7d8a2c"/>
<circle cx="330.12" cy="203.60" r="1.25" fill="#7d8a2c"/>
<circle cx="341.24" cy="192.90" r="1.25" fill="#7d8a2c"/>
<circle cx="343.47" cy="196.80" r="1.25" fill="#7d8a2c"/>
<circle cx="354.58" cy="197.10" r="1.25" fill="#7d8a2c"/>
<circle cx="356.81" cy="213.60" r="1.25" fill="#7d8a2c"/>
<circle cx="367.93" cy="217.70" r="1.25" fill="#7d8a2c"/>
<circle cx="370.16" cy="188.90" r="1.25" fill="#7d8a2c"/>
<circle cx="381.27" cy="207.70" r="1.25" fill="#7d8a2c"/>
<circle cx="383.50" cy="211.20" r="1.25" fill="#7d8a2c"/>
<circle cx="394.62" cy="238.20" r="1.25" fill="#7d8a2c"/>
<circle cx="396.85" cy="216.10" r="1.25" fill="#7d8a2c"/>
<circle cx="407.96" cy="244.00" r="1.25" fill="#7d8a2c"/>
<circle cx="410.19" cy="223.20" r="1.25" fill="#7d8a2c"/>
<circle cx="421.31" cy="197.90" r="1.25" fill="#7d8a2c"/>
<circle cx="423.54" cy="211.60" r="1.25" fill="#7d8a2c"/>
<circle cx="434.65" cy="208.00" r="1.25" fill="#7d8a2c"/>
<circle cx="436.88" cy="210.70" r="1.25" fill="#7d8a2c"/>
<circle cx="448.00" cy="202.10" r="1.25" fill="#7d8a2c"/>
<circle cx="450.23" cy="215.20" r="1.25" fill="#7d8a2c"/>
<circle cx="461.34" cy="222.30" r="1.25" fill="#7d8a2c"/>
<circle cx="463.57" cy="210.70" r="1.25" fill="#7d8a2c"/>
<circle cx="474.69" cy="227.70" r="1.25" fill="#7d8a2c"/>
<circle cx="476.92" cy="220.00" r="1.25" fill="#7d8a2c"/>
<circle cx="488.03" cy="224.60" r="1.25" fill="#7d8a2c"/>
<circle cx="490.26" cy="201.80" r="1.25" fill="#7d8a2c"/>
<circle cx="501.38" cy="192.00" r="1.25" fill="#7d8a2c"/>
<circle cx="503.61" cy="189.30" r="1.25" fill="#7d8a2c"/>
<polyline points="34.30,225.00 36.53,207.10 47.64,251.80 49.87,237.50 60.99,210.70 63.22,256.80 74.34,198.20 76.57,199.10 87.68,202.00 89.91,196.10 101.03,208.00 103.26,201.80 114.37,219.60 116.60,230.40 127.72,192.90 129.94,187.90 141.06,196.80 143.29,211.60 154.41,213.40 156.63,196.80 167.75,203.40 169.98,201.00 181.10,189.30 183.33,191.40 194.44,191.50 196.67,200.60 207.79,197.50 210.02,201.00 221.13,212.50 223.36,231.00 234.48,270.20 236.71,228.20 247.82,229.00 250.05,213.50 261.17,232.10 263.40,223.20 274.51,241.10 276.74,231.30 287.86,235.70 290.09,227.70 301.20,237.90 303.43,227.70 314.55,238.40 316.78,229.50 327.89,230.70 330.12,208.90 341.24,220.00 343.47,221.80 354.58,236.00 356.81,226.60 367.93,218.60 370.16,205.20 381.27,238.40 383.50,227.90 394.62,232.60 396.85,228.40 407.96,240.70 410.19,232.10 421.31,208.90 423.54,209.80 434.65,207.50 436.88,209.80 448.00,203.60 450.23,205.40 461.34,208.90 463.57,203.60 474.69,213.90 476.92,209.30 488.03,219.30 490.26,213.40 501.38,201.40 503.61,205.70" fill="none" stroke="#8c7474" stroke-width="1.2" stroke-linejoin="round" />
<path d="M34.30 223.90l1.1 1.1l-1.1 1.1l-1.1 -1.1z" fill="#7c6a6e"/>
<path d="M36.53 206.00l1.1 1.1l-1.1 1.1l-1.1 -1.1z" fill="#7c6a6e"/>
<path d="M47.64 250.70l1.1 1.1l-1.1 1.1l-1.1 -1.1z" fill="#7c6a6e"/>
<path d="M49.87 236.40l1.1 1.1l-1.1 1.1l-1.1 -1.1z" fill="#7c6a6e"/>
<path d="M60.99 209.60l1.1 1.1l-1.1 1.1l-1.1 -1.1z" fill="#7c6a6e"/>
<path d="M63.22 255.70l1.1 1.1l-1.1 1.1l-1.1 -1.1z" fill="#7c6a6e"/>
<path d="M74.34 197.10l1.1 1.1l-1.1 1.1l-1.1 -1.1z" fill="#7c6a6e"/>
<path d="M76.57 198.00l1.1 1.1l-1.1 1.1l-1.1 -1.1z" fill="#7c6a6e"/>
<path d="M87.68 200.90l1.1 1.1l-1.1 1.1l-1.1 -1.1z" fill="#7c6a6e"/>
<path d="M89.91 195.00l1.1 1.1l-1.1 1.1l-1.1 -1.1z" fill="#7c6a6e"/>
<path d="M101.03 206.90l1.1 1.1l-1.1 1.1l-1.1 -1.1z" fill="#7c6a6e"/>
<path d="M103.26 200.70l1.1 1.1l-1.1 1.1l-1.1 -1.1z" fill="#7c6a6e"/>
<path d="M114.37 218.50l1.1 1.1l-1.1 1.1l-1.1 -1.1z" fill="#7c6a6e"/>
<path d="M116.60 229.30l1.1 1.1l-1.1 1.1l-1.1 -1.1z" fill="#7c6a6e"/>
<path d="M127.72 191.80l1.1 1.1l-1.1 1.1l-1.1 -1.1z" fill="#7c6a6e"/>
<path d="M129.94 186.80l1.1 1.1l-1.1 1.1l-1.1 -1.1z" fill="#7c6a6e"/>
<path d="M141.06 195.70l1.1 1.1l-1.1 1.1l-1.1 -1.1z" fill="#7c6a6e"/>
<path d="M143.29 210.50l1.1 1.1l-1.1 1.1l-1.1 -1.1z" fill="#7c6a6e"/>
<path d="M154.41 212.30l1.1 1.1l-1.1 1.1l-1.1 -1.1z" fill="#7c6a6e"/>
<path d="M156.63 195.70l1.1 1.1l-1.1 1.1l-1.1 -1.1z" fill="#7c6a6e"/>
<path d="M167.75 202.30l1.1 1.1l-1.1 1.1l-1.1 -1.1z" fill="#7c6a6e"/>
<path d="M169.98 199.90l1.1 1.1l-1.1 1.1l-1.1 -1.1z" fill="#7c6a6e"/>
<path d="M181.10 188.20l1.1 1.1l-1.1 1.1l-1.1 -1.1z" fill="#7c6a6e"/>
<path d="M183.33 190.30l1.1 1.1l-1.1 1.1l-1.1 -1.1z" fill="#7c6a6e"/>
<path d="M194.44 190.40l1.1 1.1l-1.1 1.1l-1.1 -1.1z" fill="#7c6a6e"/>
<path d="M196.67 199.50l1.1 1.1l-1.1 1.1l-1.1 -1.1z" fill="#7c6a6e"/>
<path d="M207.79 196.40l1.1 1.1l-1.1 1.1l-1.1 -1.1z" fill="#7c6a6e"/>
<path d="M210.02 199.90l1.1 1.1l-1.1 1.1l-1.1 -1.1z" fill="#7c6a6e"/>
<path d="M221.13 211.40l1.1 1.1l-1.1 1.1l-1.1 -1.1z" fill="#7c6a6e"/>
<path d="M223.36 229.90l1.1 1.1l-1.1 1.1l-1.1 -1.1z" fill="#7c6a6e"/>
<path d="M234.48 269.10l1.1 1.1l-1.1 1.1l-1.1 -1.1z" fill="#7c6a6e"/>
<path d="M236.71 227.10l1.1 1.1l-1.1 1.1l-1.1 -1.1z" fill="#7c6a6e"/>
<path d="M247.82 227.90l1.1 1.1l-1.1 1.1l-1.1 -1.1z" fill="#7c6a6e"/>
<path d="M250.05 212.40l1.1 1.1l-1.1 1.1l-1.1 -1.1z" fill="#7c6a6e"/>
<path d="M261.17 231.00l1.1 1.1l-1.1 1.1l-1.1 -1.1z" fill="#7c6a6e"/>
<path d="M263.40 222.10l1.1 1.1l-1.1 1.1l-1.1 -1.1z" fill="#7c6a6e"/>
<path d="M274.51 240.00l1.1 1.1l-1.1 1.1l-1.1 -1.1z" fill="#7c6a6e"/>
<path d="M276.74 230.20l1.1 1.1l-1.1 1.1l-1.1 -1.1z" fill="#7c6a6e"/>
<path d="M287.86 234.60l1.1 1.1l-1.1 1.1l-1.1 -1.1z" fill="#7c6a6e"/>
<path d="M290.09 226.60l1.1 1.1l-1.1 1.1l-1.1 -1.1z" fill="#7c6a6e"/>
<path d="M301.20 236.80l1.1 1.1l-1.1 1.1l-1.1 -1.1z" fill="#7c6a6e"/>
<path d="M303.43 226.60l1.1 1.1l-1.1 1.1l-1.1 -1.1z" fill="#7c6a6e"/>
<path d="M314.55 237.30l1.1 1.1l-1.1 1.1l-1.1 -1.1z" fill="#7c6a6e"/>
<path d="M316.78 228.40l1.1 1.1l-1.1 1.1l-1.1 -1.1z" fill="#7c6a6e"/>
<path d="M327.89 229.60l1.1 1.1l-1.1 1.1l-1.1 -1.1z" fill="#7c6a6e"/>
<path d="M330.12 207.80l1.1 1.1l-1.1 1.1l-1.1 -1.1z" fill="#7c6a6e"/>
<path d="M341.24 218.90l1.1 1.1l-1.1 1.1l-1.1 -1.1z" fill="#7c6a6e"/>
<path d="M343.47 220.70l1.1 1.1l-1.1 1.1l-1.1 -1.1z" fill="#7c6a6e"/>
<path d="M354.58 234.90l1.1 1.1l-1.1 1.1l-1.1 -1.1z" fill="#7c6a6e"/>
<path d="M356.81 225.50l1.1 1.1l-1.1 1.1l-1.1 -1.1z" fill="#7c6a6e"/>
<path d="M367.93 217.50l1.1 1.1l-1.1 1.1l-1.1 -1.1z" fill="#7c6a6e"/>
<path d="M370.16 204.10l1.1 1.1l-1.1 1.1l-1.1 -1.1z" fill="#7c6a6e"/>
<path d="M381.27 237.30l1.1 1.1l-1.1 1.1l-1.1 -1.1z" fill="#7c6a6e"/>
<path d="M383.50 226.80l1.1 1.1l-1.1 1.1l-1.1 -1.1z" fill="#7c6a6e"/>
<path d="M394.62 231.50l1.1 1.1l-1.1 1.1l-1.1 -1.1z" fill="#7c6a6e"/>
<path d="M396.85 227.30l1.1 1.1l-1.1 1.1l-1.1 -1.1z" fill="#7c6a6e"/>
<path d="M407.96 239.60l1.1 1.1l-1.1 1.1l-1.1 -1.1z" fill="#7c6a6e"/>
<path d="M410.19 231.00l1.1 1.1l-1.1 1.1l-1.1 -1.1z" fill="#7c6a6e"/>
<path d="M421.31 207.80l1.1 1.1l-1.1 1.1l-1.1 -1.1z" fill="#7c6a6e"/>
<path d="M423.54 208.70l1.1 1.1l-1.1 1.1l-1.1 -1.1z" fill="#7c6a6e"/>
<path d="M434.65 206.40l1.1 1.1l-1.1 1.1l-1.1 -1.1z" fill="#7c6a6e"/>
<path d="M436.88 208.70l1.1 1.1l-1.1 1.1l-1.1 -1.1z" fill="#7c6a6e"/>
<path d="M448.00 202.50l1.1 1.1l-1.1 1.1l-1.1 -1.1z" fill="#7c6a6e"/>
<path d="M450.23 204.30l1.1 1.1l-1.1 1.1l-1.1 -1.1z" fill="#7c6a6e"/>
<path d="M461.34 207.80l1.1 1.1l-1.1 1.1l-1.1 -1.1z" fill="#7c6a6e"/>
<path d="M463.57 202.50l1.1 1.1l-1.1 1.1l-1.1 -1.1z" fill="#7c6a6e"/>
<path d="M474.69 212.80l1.1 1.1l-1.1 1.1l-1.1 -1.1z" fill="#7c6a6e"/>
<path d="M476.92 208.20l1.1 1.1l-1.1 1.1l-1.1 -1.1z" fill="#7c6a6e"/>
<path d="M488.03 218.20l1.1 1.1l-1.1 1.1l-1.1 -1.1z" fill="#7c6a6e"/>
<path d="M490.26 212.30l1.1 1.1l-1.1 1.1l-1.1 -1.1z" fill="#7c6a6e"/>
<path d="M501.38 200.30l1.1 1.1l-1.1 1.1l-1.1 -1.1z" fill="#7c6a6e"/>
<path d="M503.61 204.60l1.1 1.1l-1.1 1.1l-1.1 -1.1z" fill="#7c6a6e"/>
<line x1="33.7" y1="182.20" x2="33.7" y2="297.60" stroke="#333" stroke-width="0.9"/>
<line x1="31" y1="297.60" x2="505.2" y2="297.60" stroke="#333" stroke-width="0.9"/>
<line x1="505.2" y1="182.20" x2="505.2" y2="297.60" stroke="#6a6f78" stroke-width="1"/>
<line x1="31.4" y1="297.60" x2="35.2" y2="297.60" stroke="#333" stroke-width="0.7"/>
<text x="26.3" y="300.00" class="tl">0</text>
<line x1="33.7" y1="293.75" x2="35.0" y2="293.75" stroke="#333" stroke-width="0.6"/>
<line x1="33.7" y1="289.91" x2="35.0" y2="289.91" stroke="#333" stroke-width="0.6"/>
<line x1="33.7" y1="286.06" x2="35.0" y2="286.06" stroke="#333" stroke-width="0.6"/>
<line x1="33.7" y1="282.21" x2="35.0" y2="282.21" stroke="#333" stroke-width="0.6"/>
<line x1="31.4" y1="278.37" x2="35.2" y2="278.37" stroke="#333" stroke-width="0.7"/>
<text x="26.3" y="280.77" class="tl">5</text>
<line x1="33.7" y1="274.52" x2="35.0" y2="274.52" stroke="#333" stroke-width="0.6"/>
<line x1="33.7" y1="270.67" x2="35.0" y2="270.67" stroke="#333" stroke-width="0.6"/>
<line x1="33.7" y1="266.83" x2="35.0" y2="266.83" stroke="#333" stroke-width="0.6"/>
<line x1="33.7" y1="262.98" x2="35.0" y2="262.98" stroke="#333" stroke-width="0.6"/>
<line x1="31.4" y1="259.13" x2="35.2" y2="259.13" stroke="#333" stroke-width="0.7"/>
<text x="26.3" y="261.53" class="tl">10</text>
<line x1="33.7" y1="255.29" x2="35.0" y2="255.29" stroke="#333" stroke-width="0.6"/>
<line x1="33.7" y1="251.44" x2="35.0" y2="251.44" stroke="#333" stroke-width="0.6"/>
<line x1="33.7" y1="247.59" x2="35.0" y2="247.59" stroke="#333" stroke-width="0.6"/>
<line x1="33.7" y1="243.75" x2="35.0" y2="243.75" stroke="#333" stroke-width="0.6"/>
<line x1="31.4" y1="239.90" x2="35.2" y2="239.90" stroke="#333" stroke-width="0.7"/>
<text x="26.3" y="242.30" class="tl">15</text>
<line x1="33.7" y1="236.05" x2="35.0" y2="236.05" stroke="#333" stroke-width="0.6"/>
<line x1="33.7" y1="232.21" x2="35.0" y2="232.21" stroke="#333" stroke-width="0.6"/>
<line x1="33.7" y1="228.36" x2="35.0" y2="228.36" stroke="#333" stroke-width="0.6"/>
<line x1="33.7" y1="224.51" x2="35.0" y2="224.51" stroke="#333" stroke-width="0.6"/>
<line x1="31.4" y1="220.67" x2="35.2" y2="220.67" stroke="#333" stroke-width="0.7"/>
<text x="26.3" y="223.07" class="tl">20</text>
<line x1="33.7" y1="216.82" x2="35.0" y2="216.82" stroke="#333" stroke-width="0.6"/>
<line x1="33.7" y1="212.97" x2="35.0" y2="212.97" stroke="#333" stroke-width="0.6"/>
<line x1="33.7" y1="209.13" x2="35.0" y2="209.13" stroke="#333" stroke-width="0.6"/>
<line x1="33.7" y1="205.28" x2="35.0" y2="205.28" stroke="#333" stroke-width="0.6"/>
<line x1="31.4" y1="201.43" x2="35.2" y2="201.43" stroke="#333" stroke-width="0.7"/>
<text x="26.3" y="203.83" class="tl">25</text>
<line x1="33.7" y1="197.59" x2="35.0" y2="197.59" stroke="#333" stroke-width="0.6"/>
<line x1="33.7" y1="193.74" x2="35.0" y2="193.74" stroke="#333" stroke-width="0.6"/>
<line x1="33.7" y1="189.89" x2="35.0" y2="189.89" stroke="#333" stroke-width="0.6"/>
<line x1="33.7" y1="186.05" x2="35.0" y2="186.05" stroke="#333" stroke-width="0.6"/>
<line x1="31.4" y1="182.20" x2="35.2" y2="182.20" stroke="#333" stroke-width="0.7"/>
<text x="26.3" y="184.60" class="tl">30</text>
<line x1="505.2" y1="297.60" x2="507.2" y2="297.60" stroke="#6a6f78" stroke-width="0.8"/>
<text x="511.8" y="300.00" class="tr">0</text>
<line x1="505.2" y1="284.78" x2="507.2" y2="284.78" stroke="#6a6f78" stroke-width="0.8"/>
<text x="511.8" y="287.18" class="tr">10</text>
<line x1="505.2" y1="271.96" x2="507.2" y2="271.96" stroke="#6a6f78" stroke-width="0.8"/>
<text x="511.8" y="274.36" class="tr">20</text>
<line x1="505.2" y1="259.13" x2="507.2" y2="259.13" stroke="#6a6f78" stroke-width="0.8"/>
<text x="511.8" y="261.53" class="tr">30</text>
<line x1="505.2" y1="246.31" x2="507.2" y2="246.31" stroke="#6a6f78" stroke-width="0.8"/>
<text x="511.8" y="248.71" class="tr">40</text>
<line x1="505.2" y1="233.49" x2="507.2" y2="233.49" stroke="#6a6f78" stroke-width="0.8"/>
<text x="511.8" y="235.89" class="tr">50</text>
<line x1="505.2" y1="220.67" x2="507.2" y2="220.67" stroke="#6a6f78" stroke-width="0.8"/>
<text x="511.8" y="223.07" class="tr">60</text>
<line x1="505.2" y1="207.84" x2="507.2" y2="207.84" stroke="#6a6f78" stroke-width="0.8"/>
<text x="511.8" y="210.24" class="tr">70</text>
<line x1="505.2" y1="195.02" x2="507.2" y2="195.02" stroke="#6a6f78" stroke-width="0.8"/>
<text x="511.8" y="197.42" class="tr">80</text>
<line x1="505.2" y1="182.20" x2="507.2" y2="182.20" stroke="#6a6f78" stroke-width="0.8"/>
<text x="511.8" y="184.60" class="tr">90</text>
<line x1="33.50" y1="297.60" x2="33.50" y2="299.40" stroke="#333" stroke-width="0.7"/>
<text transform="translate(37.40 302.50) rotate(-90)" class="tx">92</text>
<line x1="44.61" y1="297.60" x2="44.61" y2="299.40" stroke="#333" stroke-width="0.7"/>
<text transform="translate(48.51 302.50) rotate(-90)" class="tx">97</text>
<line x1="55.73" y1="297.60" x2="55.73" y2="299.40" stroke="#333" stroke-width="0.7"/>
<text transform="translate(59.63 302.50) rotate(-90)" class="tx">102</text>
<line x1="66.84" y1="297.60" x2="66.84" y2="299.40" stroke="#333" stroke-width="0.7"/>
<text transform="translate(70.74 302.50) rotate(-90)" class="tx">107</text>
<line x1="77.96" y1="297.60" x2="77.96" y2="299.40" stroke="#333" stroke-width="0.7"/>
<text transform="translate(81.86 302.50) rotate(-90)" class="tx">112</text>
<line x1="89.07" y1="297.60" x2="89.07" y2="299.40" stroke="#333" stroke-width="0.7"/>
<text transform="translate(92.97 302.50) rotate(-90)" class="tx">117</text>
<line x1="100.19" y1="297.60" x2="100.19" y2="299.40" stroke="#333" stroke-width="0.7"/>
<text transform="translate(104.09 302.50) rotate(-90)" class="tx">122</text>
<line x1="111.30" y1="297.60" x2="111.30" y2="299.40" stroke="#333" stroke-width="0.7"/>
<text transform="translate(115.20 302.50) rotate(-90)" class="tx">127</text>
<line x1="122.42" y1="297.60" x2="122.42" y2="299.40" stroke="#333" stroke-width="0.7"/>
<text transform="translate(126.32 302.50) rotate(-90)" class="tx">132</text>
<line x1="133.53" y1="297.60" x2="133.53" y2="299.40" stroke="#333" stroke-width="0.7"/>
<text transform="translate(137.43 302.50) rotate(-90)" class="tx">137</text>
<line x1="144.65" y1="297.60" x2="144.65" y2="299.40" stroke="#333" stroke-width="0.7"/>
<text transform="translate(148.55 302.50) rotate(-90)" class="tx">142</text>
<line x1="155.76" y1="297.60" x2="155.76" y2="299.40" stroke="#333" stroke-width="0.7"/>
<text transform="translate(159.66 302.50) rotate(-90)" class="tx">147</text>
<line x1="166.87" y1="297.60" x2="166.87" y2="299.40" stroke="#333" stroke-width="0.7"/>
<text transform="translate(170.77 302.50) rotate(-90)" class="tx">152</text>
<line x1="177.99" y1="297.60" x2="177.99" y2="299.40" stroke="#333" stroke-width="0.7"/>
<text transform="translate(181.89 302.50) rotate(-90)" class="tx">157</text>
<line x1="189.10" y1="297.60" x2="189.10" y2="299.40" stroke="#333" stroke-width="0.7"/>
<text transform="translate(193.00 302.50) rotate(-90)" class="tx">162</text>
<line x1="200.22" y1="297.60" x2="200.22" y2="299.40" stroke="#333" stroke-width="0.7"/>
<text transform="translate(204.12 302.50) rotate(-90)" class="tx">167</text>
<line x1="211.33" y1="297.60" x2="211.33" y2="299.40" stroke="#333" stroke-width="0.7"/>
<text transform="translate(215.23 302.50) rotate(-90)" class="tx">172</text>
<line x1="222.45" y1="297.60" x2="222.45" y2="299.40" stroke="#333" stroke-width="0.7"/>
<text transform="translate(226.35 302.50) rotate(-90)" class="tx">177</text>
<line x1="233.56" y1="297.60" x2="233.56" y2="299.40" stroke="#333" stroke-width="0.7"/>
<text transform="translate(237.46 302.50) rotate(-90)" class="tx">182</text>
<line x1="244.68" y1="297.60" x2="244.68" y2="299.40" stroke="#333" stroke-width="0.7"/>
<text transform="translate(248.58 302.50) rotate(-90)" class="tx">187</text>
<line x1="255.79" y1="297.60" x2="255.79" y2="299.40" stroke="#333" stroke-width="0.7"/>
<text transform="translate(259.69 302.50) rotate(-90)" class="tx">192</text>
<line x1="266.90" y1="297.60" x2="266.90" y2="299.40" stroke="#333" stroke-width="0.7"/>
<text transform="translate(270.80 302.50) rotate(-90)" class="tx">197</text>
<line x1="278.02" y1="297.60" x2="278.02" y2="299.40" stroke="#333" stroke-width="0.7"/>
<text transform="translate(281.92 302.50) rotate(-90)" class="tx">202</text>
<line x1="289.13" y1="297.60" x2="289.13" y2="299.40" stroke="#333" stroke-width="0.7"/>
<text transform="translate(293.03 302.50) rotate(-90)" class="tx">207</text>
<line x1="300.25" y1="297.60" x2="300.25" y2="299.40" stroke="#333" stroke-width="0.7"/>
<text transform="translate(304.15 302.50) rotate(-90)" class="tx">212</text>
<line x1="311.36" y1="297.60" x2="311.36" y2="299.40" stroke="#333" stroke-width="0.7"/>
<text transform="translate(315.26 302.50) rotate(-90)" class="tx">217</text>
<line x1="322.48" y1="297.60" x2="322.48" y2="299.40" stroke="#333" stroke-width="0.7"/>
<text transform="translate(326.38 302.50) rotate(-90)" class="tx">222</text>
<line x1="333.59" y1="297.60" x2="333.59" y2="299.40" stroke="#333" stroke-width="0.7"/>
<text transform="translate(337.49 302.50) rotate(-90)" class="tx">227</text>
<line x1="344.71" y1="297.60" x2="344.71" y2="299.40" stroke="#333" stroke-width="0.7"/>
<text transform="translate(348.61 302.50) rotate(-90)" class="tx">232</text>
<line x1="355.82" y1="297.60" x2="355.82" y2="299.40" stroke="#333" stroke-width="0.7"/>
<text transform="translate(359.72 302.50) rotate(-90)" class="tx">237</text>
<line x1="366.94" y1="297.60" x2="366.94" y2="299.40" stroke="#333" stroke-width="0.7"/>
<text transform="translate(370.83 302.50) rotate(-90)" class="tx">242</text>
<line x1="378.05" y1="297.60" x2="378.05" y2="299.40" stroke="#333" stroke-width="0.7"/>
<text transform="translate(381.95 302.50) rotate(-90)" class="tx">247</text>
<line x1="389.16" y1="297.60" x2="389.16" y2="299.40" stroke="#333" stroke-width="0.7"/>
<text transform="translate(393.06 302.50) rotate(-90)" class="tx">252</text>
<line x1="400.28" y1="297.60" x2="400.28" y2="299.40" stroke="#333" stroke-width="0.7"/>
<text transform="translate(404.18 302.50) rotate(-90)" class="tx">257</text>
<line x1="411.39" y1="297.60" x2="411.39" y2="299.40" stroke="#333" stroke-width="0.7"/>
<text transform="translate(415.29 302.50) rotate(-90)" class="tx">262</text>
<line x1="422.51" y1="297.60" x2="422.51" y2="299.40" stroke="#333" stroke-width="0.7"/>
<text transform="translate(426.41 302.50) rotate(-90)" class="tx">267</text>
<line x1="433.62" y1="297.60" x2="433.62" y2="299.40" stroke="#333" stroke-width="0.7"/>
<text transform="translate(437.52 302.50) rotate(-90)" class="tx">272</text>
<line x1="444.74" y1="297.60" x2="444.74" y2="299.40" stroke="#333" stroke-width="0.7"/>
<text transform="translate(448.64 302.50) rotate(-90)" class="tx">277</text>
<line x1="455.85" y1="297.60" x2="455.85" y2="299.40" stroke="#333" stroke-width="0.7"/>
<text transform="translate(459.75 302.50) rotate(-90)" class="tx">282</text>
<line x1="466.97" y1="297.60" x2="466.97" y2="299.40" stroke="#333" stroke-width="0.7"/>
<text transform="translate(470.87 302.50) rotate(-90)" class="tx">287</text>
<line x1="478.08" y1="297.60" x2="478.08" y2="299.40" stroke="#333" stroke-width="0.7"/>
<text transform="translate(481.98 302.50) rotate(-90)" class="tx">292</text>
<line x1="489.19" y1="297.60" x2="489.19" y2="299.40" stroke="#333" stroke-width="0.7"/>
<text transform="translate(493.09 302.50) rotate(-90)" class="tx">297</text>
<line x1="500.31" y1="297.60" x2="500.31" y2="299.40" stroke="#333" stroke-width="0.7"/>
<text transform="translate(504.21 302.50) rotate(-90)" class="tx">302</text>
<text x="268.2" y="183.40" class="pt" textLength="12.8" lengthAdjust="spacingAndGlyphs">P4</text>
<text x="273.60" y="321.00" class="doy" textLength="24.60" lengthAdjust="spacingAndGlyphs">DOY</text>
<text x="280" y="336.40" class="sub">(d)</text>
<text transform="translate(13.9 108.20) rotate(-90)" class="ax" style="font-size:13.6px" textLength="27.9" lengthAdjust="spacingAndGlyphs">SSM</text>
<text transform="translate(16.1 79.80) rotate(-90)" class="ax" style="font-size:7.8px" textLength="7.3" lengthAdjust="spacingAndGlyphs">S1</text>
<text transform="translate(12.7 69.00) rotate(-90)" class="ax" style="font-size:11.3px" textLength="41.4" lengthAdjust="spacingAndGlyphs">(m<tspan style="font-size:7px" dy="-4.6">3</tspan><tspan dy="4.6">/m</tspan><tspan style="font-size:7px" dy="-4.6">3</tspan><tspan dy="4.6">)</tspan></text>
<text transform="translate(13.9 279.20) rotate(-90)" class="ax" style="font-size:13.6px" textLength="27.9" lengthAdjust="spacingAndGlyphs">SSM</text>
<text transform="translate(16.1 250.80) rotate(-90)" class="ax" style="font-size:7.8px" textLength="7.3" lengthAdjust="spacingAndGlyphs">S1</text>
<text transform="translate(12.7 240.00) rotate(-90)" class="ax" style="font-size:11.3px" textLength="41.4" lengthAdjust="spacingAndGlyphs">(m<tspan style="font-size:7px" dy="-4.6">3</tspan><tspan dy="4.6">/m</tspan><tspan style="font-size:7px" dy="-4.6">3</tspan><tspan dy="4.6">)</tspan></text>
<text transform="translate(531.1 65.60) rotate(-90)" class="ax" text-anchor="middle" style="font-size:10.4px" textLength="69.6" lengthAdjust="spacingAndGlyphs">Rainfall (mm)</text>
<text transform="translate(544.9 65.60) rotate(-90)" class="ax" text-anchor="middle" style="font-size:10.4px" textLength="49.8" lengthAdjust="spacingAndGlyphs">NDVI (%)</text>
<text transform="translate(531.1 238.40) rotate(-90)" class="ax" text-anchor="middle" style="font-size:10.4px" textLength="69.6" lengthAdjust="spacingAndGlyphs">Rainfall (mm)</text>
<text transform="translate(544.9 238.40) rotate(-90)" class="ax" text-anchor="middle" style="font-size:10.4px" textLength="49.8" lengthAdjust="spacingAndGlyphs">NDVI (%)</text>
<rect x="138" y="346" width="16" height="16" fill="#4c7190"/>
<text x="163" y="358.6" class="lg" textLength="51" lengthAdjust="spacingAndGlyphs">Rainfall</text>
<text x="218.8" y="358.6" class="lg" textLength="34.6" lengthAdjust="spacingAndGlyphs">(mm)</text>
<line x1="133.2" y1="381.1" x2="158.7" y2="381.1" stroke="#6d8a66" stroke-width="1.1" stroke-dasharray="3,1.8"/>
<path d="M141 377l10 8.2m0 -8.2l-10 8.2" stroke="#3f8a3d" stroke-width="1.2" fill="none"/>
<text x="163" y="385.5" class="lg" textLength="39.4" lengthAdjust="spacingAndGlyphs">NDVI</text>
<text x="206.6" y="385.5" class="lg" textLength="22.4" lengthAdjust="spacingAndGlyphs">(%)</text>
<line x1="307.5" y1="353.6" x2="333.1" y2="353.6" stroke="#cdd83e" stroke-width="2"/>
<circle cx="321.1" cy="353.6" r="4.5" fill="#e2d21a" stroke="#3d2f08" stroke-width="1.8"/>
<line x1="307.5" y1="380.8" x2="333.1" y2="380.8" stroke="#66594a" stroke-width="2"/>
<path d="M321.1 375.5l4.2 4.9l-4.2 4.9l-4.2 -4.9z" fill="#9793c4"/>
<text x="338.2" y="359.1" class="lg" textLength="31.6" lengthAdjust="spacingAndGlyphs">SSM</text>
<text x="369.9" y="361.5" class="lg" style="font-size:8.6px" textLength="4.8" lengthAdjust="spacingAndGlyphs">P</text>
<text x="377.8" y="359.1" class="lg" textLength="47.8" lengthAdjust="spacingAndGlyphs">(m<tspan style="font-size:8.6px" dy="-5">3</tspan><tspan dy="5">/m</tspan><tspan style="font-size:8.6px" dy="-5">3</tspan><tspan dy="5">)</tspan></text>
<text x="338.2" y="384.6" class="lg" textLength="31.6" lengthAdjust="spacingAndGlyphs">SSM</text>
<text x="369.9" y="387.0" class="lg" style="font-size:8.6px" textLength="6.0" lengthAdjust="spacingAndGlyphs">G</text>
<text x="377.8" y="384.6" class="lg" textLength="47.8" lengthAdjust="spacingAndGlyphs">(m<tspan style="font-size:8.6px" dy="-5">3</tspan><tspan dy="5">/m</tspan><tspan style="font-size:8.6px" dy="-5">3</tspan><tspan dy="5">)</tspan></text>
</svg></body></html>
